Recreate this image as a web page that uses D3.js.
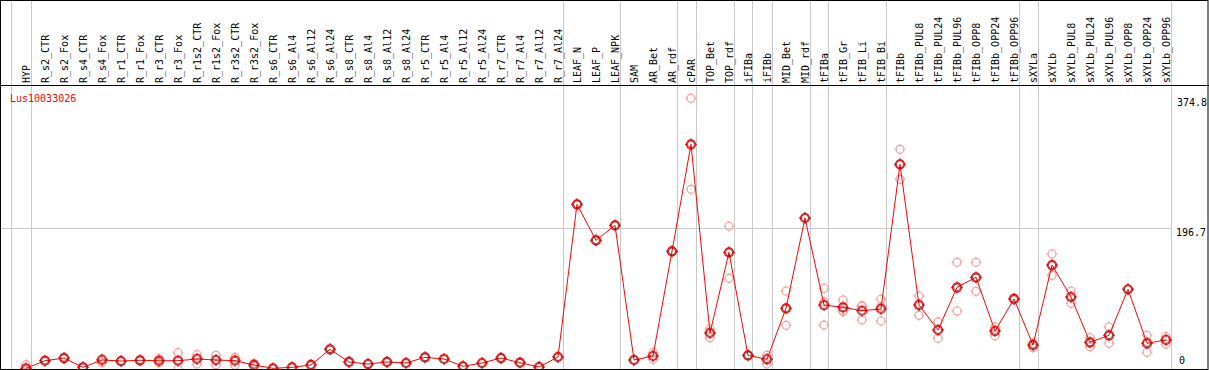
<!DOCTYPE html>
<html>
<head>
<meta charset="utf-8">
<script src="https://cdn.jsdelivr.net/npm/d3@7"></script>
<style>
  body { margin: 0; background: #fff; }
  svg { display: block; }
  text { font-family: "DejaVu Sans Mono", monospace; font-size: 10px; }
</style>
</head>
<body>
<script>
var gene = "Lus10033026";

var samples = ["HYP","R_s2_CTR","R_s2_Fox","R_s4_CTR","R_s4_Fox","R_r1_CTR","R_r1_Fox","R_r3_CTR","R_r3_Fox",
  "R_r1s2_CTR","R_r1s2_Fox","R_r3s2_CTR","R_r3s2_Fox","R_s6_CTR","R_s6_Al4","R_s6_Al12","R_s6_Al24",
  "R_s8_CTR","R_s8_Al4","R_s8_Al12","R_s8_Al24","R_r5_CTR","R_r5_Al4","R_r5_Al12","R_r5_Al24",
  "R_r7_CTR","R_r7_Al4","R_r7_Al12","R_r7_Al24","LEAF_N","LEAF_P","LEAF_NPK","SAM","AR_Bet","AR_rdf",
  "cPAR","TOP_Bet","TOP_rdf","iFIBa","iFIBb","MID_Bet","MID_rdf","tFIBa","tFIB_Gr","tFIB_Li","tFIB_Bi",
  "tFIBb","tFIBb_PUL8","tFIBb_PUL24","tFIBb_PUL96","tFIBb_OPP8","tFIBb_OPP24","tFIBb_OPP96",
  "sXYLa","sXYLb","sXYLb_PUL8","sXYLb_PUL24","sXYLb_PUL96","sXYLb_OPP8","sXYLb_OPP24","sXYLb_OPP96"];

// mean expression per sample
var means = [4.9,15.3,19.0,6.3,16.3,14.9,15.9,15.3,15.3,
  17.7,16.3,15.3,9.5,4.9,6.3,9.5,31.0,
  13.6,10.8,13.6,12.2,20.0,17.7,7.7,12.2,
  19.0,12.6,6.7,20.4,229.6,180.3,200.8,16.3,21.8,165.2,
  311.8,53.3,163.8,22.7,17.3,87.1,210.8,91.6,88.5,83.8,86.2,
  284.4,91.6,57.4,115.9,129.6,56.0,99.9,
  36.8,146.4,102.6,40.5,50.1,113.2,39.2,43.7];

// replicates (3 per sample)
var reps1 = [9.9,16,20,7,18,15,16,18.1,26.3,23.6,22.7,20,11.8,5,6.5,10,32,14,11,14,12.5,20.5,18,8,12.5,19.5,13,7,21,
  230,181,201,16.5,26.3,166,374.8,58.8,199.5,23,22.7,110.8,211,114.5,98.5,90.7,99.5,
  304.9,104,68.4,150.1,150.1,61.5,101,33.2,161.5,110.8,46.8,61.5,113.5,50.1,48.2];
var reps2 = [3,15,18,6,12.6,15,16,12.6,3.6,10.8,9.9,9,8,5,6,9,30,13,10.5,13,12,19.5,17.5,7.5,12,18.5,12.3,6.5,20,
  229,180,200.5,15.8,17.3,164.5,250.1,46.8,128.2,22.5,10.8,63.8,210.5,64.2,82.5,71.1,69.7,
  263.8,77.5,46,83.4,110.4,49.6,99,38.5,132.3,94,34.5,39.2,113,26.8,38.2];
var reps3 = [2,15,19,6,18,14.5,15.5,15.2,16,18.7,16.3,16.9,8.7,4.7,6.4,9.5,31,13.8,10.9,13.8,12.1,20,17.6,7.6,12.1,19,12.5,6.6,20.2,
  229.8,180,201,16.6,21.8,165.1,310.5,54.3,163.7,22.6,18.4,86.7,210.9,95.8,84.5,89.6,89.4,
  284.5,93.3,57.8,114.2,128.3,56.9,99.7,38.7,145.4,103,40.2,49.6,113.1,40.7,44.7];

// group separators drawn after these sample indices
var separators = [-1,0,28,31,34,35,37,38,39,41,42,45,52,53,60];

var yMax = 374.8, yMid = 196.7;

var width = 1209, height = 370;
var headerY = 85, bottomY = 369;

var svg = d3.select("body").append("svg")
  .attr("width", width)
  .attr("height", height);

var x = d3.scaleLinear().domain([0, samples.length - 1]).range([26, 1166]);
var y = d3.scaleLinear().domain([0, yMax]).range([371.9, 98.3]);

svg.append("defs").append("clipPath").attr("id", "plotclip")
  .append("rect").attr("x", 0).attr("y", headerY).attr("width", width).attr("height", bottomY - headerY);

// middle gridline
svg.append("line")
  .attr("x1", 1).attr("x2", x(60) + 4.5)
  .attr("y1", Math.round(y(yMid)) + 0.5).attr("y2", Math.round(y(yMid)) + 0.5)
  .attr("stroke", "#c8c8c8");

// vertical separators
svg.selectAll(".sep").data(separators).enter().append("line")
  .attr("class", "sep")
  .attr("x1", function(d){ return Math.round(x(d) + 4.5) + 0.5; })
  .attr("x2", function(d){ return Math.round(x(d) + 4.5) + 0.5; })
  .attr("y1", 0).attr("y2", bottomY)
  .attr("stroke", "#c8c8c8");

// header labels
svg.selectAll(".lbl").data(samples).enter().append("text")
  .attr("class", "lbl")
  .attr("transform", function(d, i){ return "translate(" + (x(i) + 4) + ",83) rotate(-90)"; })
  .attr("fill", "#000")
  .text(function(d){ return d; });

// borders
svg.append("line").attr("x1", 0).attr("x2", width).attr("y1", headerY + 0.5).attr("y2", headerY + 0.5).attr("stroke", "#000");
svg.append("rect").attr("x", 0.5).attr("y", 0.5).attr("width", width - 1.5).attr("height", bottomY)
  .attr("fill", "none").attr("stroke", "#000");

// gene name
svg.append("text").attr("x", 10).attr("y", 102).attr("fill", "#ff0000").text(gene);

// y labels
svg.append("text").attr("x", 1177).attr("y", y(yMax) + 8).attr("fill", "#000").text(yMax.toFixed(1));
svg.append("text").attr("x", 1176).attr("y", y(yMid) + 8).attr("fill", "#000").text(yMid.toFixed(1));
svg.append("text").attr("x", 1179).attr("y", 364).attr("fill", "#000").text("0");

var plot = svg.append("g").attr("clip-path", "url(#plotclip)");

function marker(g, cx, cy, col, r, w) {
  g.append("circle").attr("cx", cx).attr("cy", cy).attr("r", r)
    .attr("fill", "none").attr("stroke", col).attr("stroke-width", w);
  [[0,-1],[0,1],[-1,0],[1,0]].forEach(function(p){
    g.append("line")
      .attr("x1", cx + p[0] * (r - 0.5)).attr("y1", cy + p[1] * (r - 0.5))
      .attr("x2", cx + p[0] * (r + 1.5)).attr("y2", cy + p[1] * (r + 1.5))
      .attr("stroke", col).attr("stroke-width", 1);
  });
}

// replicate points
var repGroup = plot.append("g");
[reps1, reps2, reps3].forEach(function(arr){
  arr.forEach(function(v, i){ marker(repGroup, x(i), y(v), "#f0a0a0", 4, 1.2); });
});

// mean line
var line = d3.line()
  .x(function(d, i){ return x(i); })
  .y(function(d){ return y(d); });
plot.append("path").attr("d", line(means))
  .attr("fill", "none").attr("stroke", "#ff0000").attr("stroke-width", 1);

// mean points
var meanGroup = plot.append("g");
means.forEach(function(v, i){
  marker(meanGroup, x(i), y(v), "#ff0000", 4.5, 1.2);
  meanGroup.append("circle").attr("cx", x(i)).attr("cy", y(v)).attr("r", 3.5)
    .attr("fill", "none").attr("stroke", "#600").attr("stroke-width", 0.7);
});
</script>
</body>
</html>
